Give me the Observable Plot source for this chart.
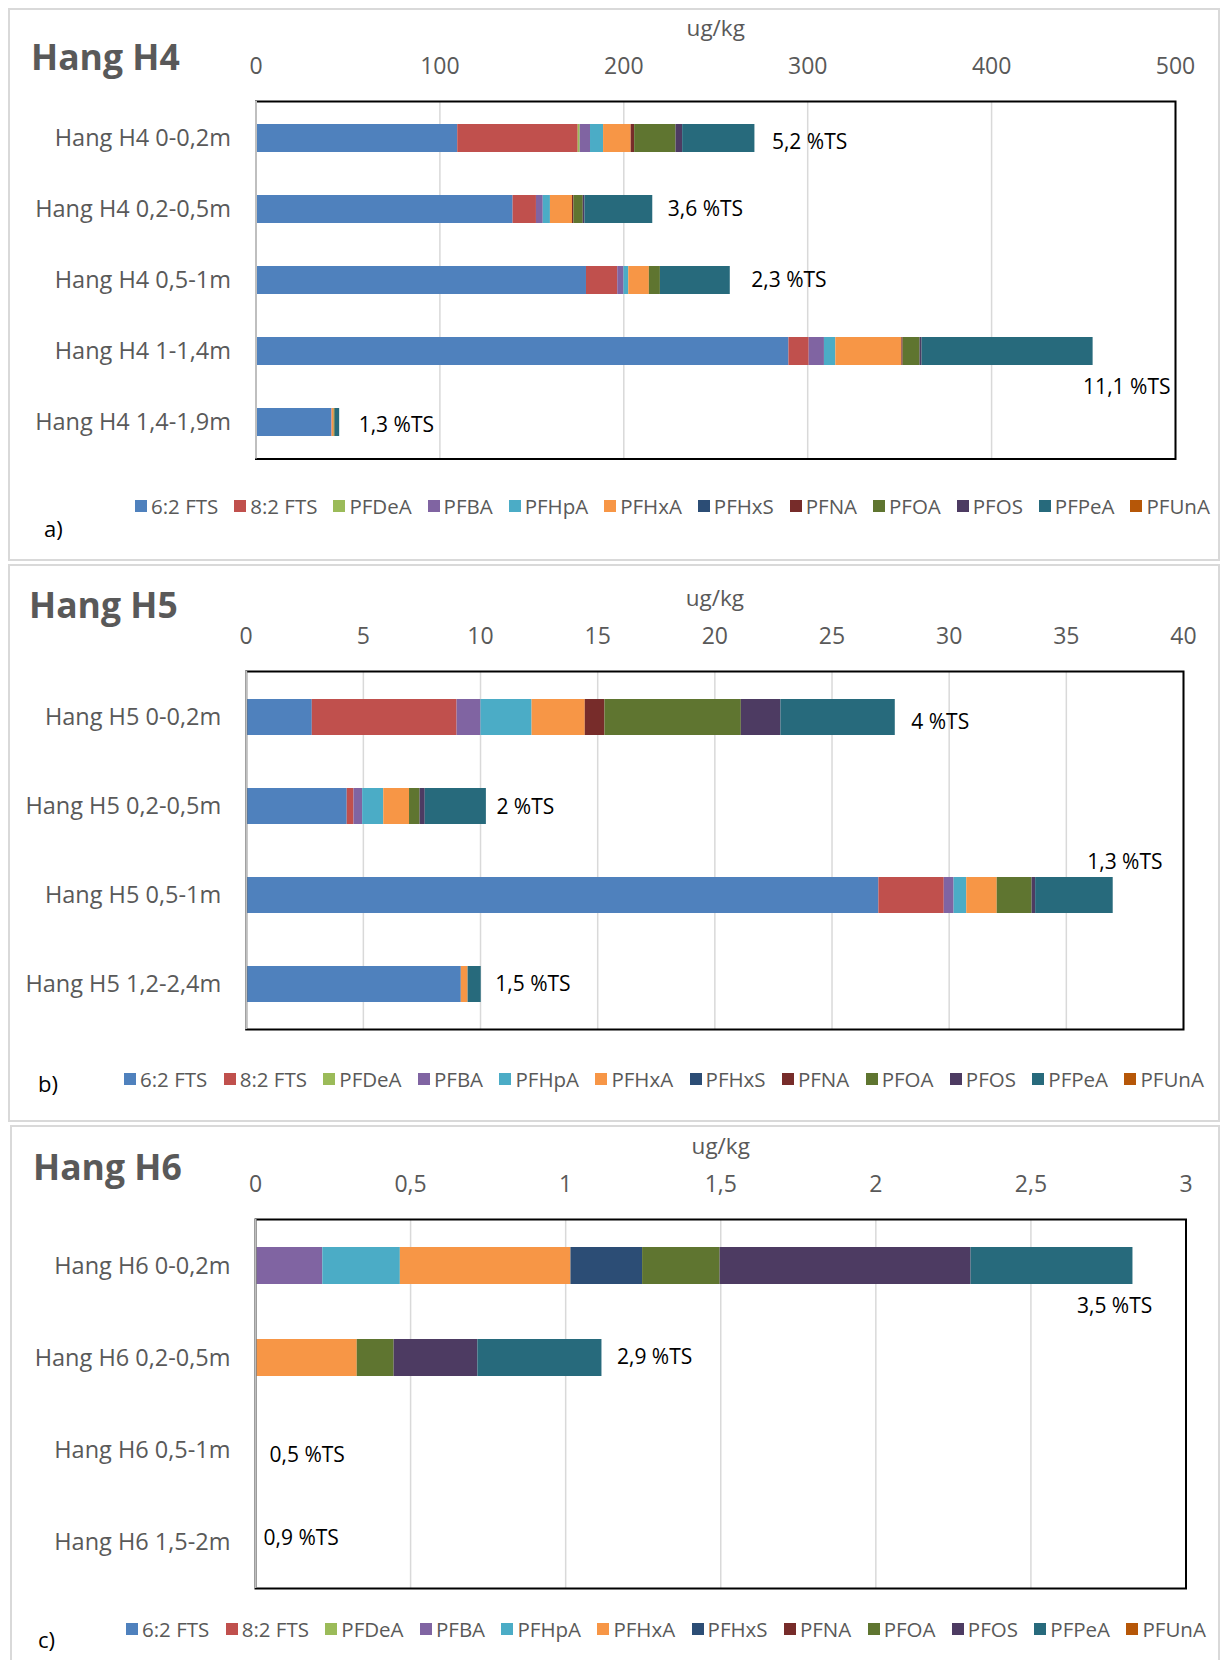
<!DOCTYPE html>
<html>
<head>
<meta charset="utf-8">
<script src="https://cdn.jsdelivr.net/npm/d3@7"></script>
<script src="https://cdn.jsdelivr.net/npm/@observablehq/plot@0.6"></script>
<style>
  html, body { margin: 0; padding: 0; background: #fff; }
  #page { position: relative; width: 1222px; height: 1660px; overflow: hidden; font-family: "Open Sans", sans-serif; background: #fff; }
  .panel { position: absolute; box-sizing: border-box; border: 2px solid #d9d9d9; }
  .abs { position: absolute; white-space: nowrap; }
  .legend { position: absolute; display: flex; justify-content: space-between; align-items: center; height: 26px; font-size: 20.5px; color: #595959; }
  .legend .item { display: flex; align-items: center; }
  .legend .sw { width: 12px; height: 12px; margin-right: 4px; }
  svg text { font-family: "Open Sans", sans-serif; }
</style>
</head>
<body>
<div id="page"></div>
<script>
// ---------------- DATA ----------------
const compounds = ["6:2 FTS", "8:2 FTS", "PFDeA", "PFBA", "PFHpA", "PFHxA", "PFHxS", "PFNA", "PFOA", "PFOS", "PFPeA", "PFUnA"];
const compoundColors = ["#4F81BD", "#C0504D", "#9BBB59", "#8064A2", "#4BACC6", "#F79646", "#2C4D75", "#772C2A", "#5F7530", "#4D3B62", "#276A7C", "#B65708"];

// Hang H4 (ug/kg), values in compound order
const h4Samples = ["Hang H4 0-0,2m", "Hang H4 0,2-0,5m", "Hang H4 0,5-1m", "Hang H4 1-1,4m", "Hang H4 1,4-1,9m"];
const h4_0_02  = [109.7, 65.5, 1.1, 5.6, 7.1, 15.0, 0, 1.9, 22.5, 3.6, 39.3, 0];
const h4_02_05 = [139.8, 12.7, 0, 3.7, 3.9, 12.0, 0, 0.75, 5.1, 0.9, 36.9, 0];
const h4_05_1  = [179.7, 17.0, 0, 3.4, 2.6, 11.2, 0, 0, 6.0, 0, 38.0, 0];
const h4_1_14  = [289.8, 11.0, 0, 8.3, 6.2, 35.9, 0, 0.7, 9.2, 1.1, 93.0, 0];
const h4_14_19 = [41.1, 0, 0, 0.3, 0, 1.1, 0, 0, 0.6, 0, 2.4, 0];
const h4Labels = ["5,2 %TS", "3,6 %TS", "2,3 %TS", "11,1 %TS", "1,3 %TS"];
const h4Ticks = [0, 100, 200, 300, 400, 500];

// Hang H5 (ug/kg)
const h5Samples = ["Hang H5 0-0,2m", "Hang H5 0,2-0,5m", "Hang H5 0,5-1m", "Hang H5 1,2-2,4m"];
const h5_0_02  = [2.82, 6.18, 0, 1.02, 2.18, 2.27, 0, 0.84, 5.82, 1.69, 4.88, 0];
const h5_02_05 = [4.31, 0.29, 0, 0.37, 0.9, 1.1, 0, 0, 0.45, 0.22, 2.61, 0];
const h5_05_1  = [27.0, 2.79, 0, 0.42, 0.54, 1.3, 0, 0, 1.49, 0.15, 3.31, 0];
const h5_12_24 = [9.18, 0, 0, 0, 0, 0.29, 0, 0, 0, 0, 0.56, 0];
const h5Labels = ["4 %TS", "2 %TS", "1,3 %TS", "1,5 %TS"];
const h5Ticks = [0, 5, 10, 15, 20, 25, 30, 35, 40];

// Hang H6 (ug/kg)
const h6Samples = ["Hang H6 0-0,2m", "Hang H6 0,2-0,5m", "Hang H6 0,5-1m", "Hang H6 1,5-2m"];
const h6_0_02  = [0, 0, 0, 0.217, 0.25, 0.55, 0.231, 0, 0.25, 0.809, 0.522, 0];
const h6_02_05 = [0, 0, 0, 0, 0, 0.328, 0, 0, 0.119, 0.27, 0.4, 0];
const h6_05_1  = [0, 0, 0, 0, 0, 0, 0, 0, 0, 0, 0, 0];
const h6_15_2  = [0, 0, 0, 0, 0, 0, 0, 0, 0, 0, 0, 0];
const h6Labels = ["3,5 %TS", "2,9 %TS", "0,5 %TS", "0,9 %TS"];
const h6Ticks = [0, 0.5, 1, 1.5, 2, 2.5, 3];

// ---------------- LAYOUT (not data) ----------------
const panels = [
  { title: "Hang H4", letter: "a)", samples: h4Samples, rows: [h4_0_02, h4_02_05, h4_05_1, h4_1_14, h4_14_19], labels: h4Labels, ticks: h4Ticks,
    box: [8, 8, 1212, 553], top: 8, frame: [101, 458.5, 255.5, 1175],
    titleXY: [31, 71], letterXY: [44, 537], legend: [135, 506, 1075],
    labelOffsets: [[17, 4], [15, 0], [21, 0], [-10, 36], [19, 3]] },
  { title: "Hang H5", letter: "b)", samples: h5Samples, rows: [h5_0_02, h5_02_05, h5_05_1, h5_12_24], labels: h5Labels, ticks: h5Ticks,
    box: [8, 564, 1212, 558], top: 564, frame: [671, 1029, 245.7, 1183],
    titleXY: [29, 619], letterXY: [38, 1092], legend: [124, 1079, 1080],
    labelOffsets: [[16, 5], [10, 1], [-26, -33], [14, 0]] },
  { title: "Hang H6", letter: "c)", samples: h6Samples, rows: [h6_0_02, h6_02_05, h6_05_1, h6_15_2], labels: h6Labels, ticks: h6Ticks,
    box: [10, 1125, 1210, 545], top: 1125, frame: [1219, 1588, 255, 1185.5],
    titleXY: [33, 1181], letterXY: [38, 1648], legend: [126, 1628.6, 1080],
    labelOffsets: [[-56, 40], [15, -1], [14, 5], [8, -4]] }
];

const page = document.getElementById("page");
const fmt = d => String(d).replace(".", ",");

function addText(txt, x, baseline, size, opts = {}) {
  const el = document.createElement("div");
  el.className = "abs";
  el.textContent = txt;
  el.style.left = x + "px";
  el.style.fontSize = size + "px";
  el.style.lineHeight = size + "px";
  el.style.top = (baseline - 0.888 * size) + "px";
  el.style.color = opts.color || "#000";
  if (opts.bold) el.style.fontWeight = "700";
  page.appendChild(el);
}

for (const p of panels) {
  const box = document.createElement("div");
  box.className = "panel";
  Object.assign(box.style, { left: p.box[0] + "px", top: p.box[1] + "px", width: p.box[2] + "px", height: p.box[3] + "px" });
  page.appendChild(box);

  const table = [];
  p.samples.forEach((s, i) => p.rows[i].forEach((v, j) => { if (v > 0) table.push({ sample: s, compound: compounds[j], value: v }); }));
  const totals = p.samples.map((s, i) => ({ sample: s, total: d3.sum(p.rows[i]), label: p.labels[i], idx: i }));

  const [fTop, fBottom, fLeft, fRight] = p.frame;
  const height = fBottom - p.top + 3;
  const labelMarks = totals.map(t => Plot.text([t], {
    x: "total", y: "sample", text: "label", textAnchor: "start",
    dx: p.labelOffsets[t.idx][0], dy: p.labelOffsets[t.idx][1], fontSize: 21, fill: "#000"
  }));

  const chart = Plot.plot({
    width: 1222, height,
    marginTop: fTop - p.top, marginBottom: 3, marginLeft: fLeft, marginRight: 1222 - fRight,
    x: { domain: [p.ticks[0], p.ticks[p.ticks.length - 1]], ticks: p.ticks, tickFormat: fmt },
    y: { domain: p.samples, paddingInner: 0.6, paddingOuter: 0.3 },
    color: { domain: compounds, range: compoundColors },
    style: { fontFamily: "Open Sans, sans-serif", background: "transparent", overflow: "visible" },
    marks: [
      Plot.gridX(p.ticks, { stroke: "#d9d9d9", strokeOpacity: 1, strokeWidth: 1.5 }),
      Plot.barX(table, Plot.stackX({ x: "value", y: "sample", fill: "compound", order: compounds })),
      Plot.frame({ stroke: "#000", strokeWidth: 2 }),
      Plot.ruleX([p.ticks[0]], { stroke: "#bfbfbf", strokeWidth: 2 }),
      Plot.axisX(p.ticks, { anchor: "top", tickSize: 0, tickPadding: 28, fontSize: 23, fill: "#595959", tickFormat: fmt, label: null }),
      Plot.axisY({ anchor: "left", tickSize: 0, tickPadding: 25, fontSize: 23.5, fill: "#595959", label: null }),
      Plot.text(["ug/kg"], { frameAnchor: "top", dy: -73, lineAnchor: "middle", fontSize: 22.5, fill: "#595959" }),
      ...labelMarks
    ]
  });
  chart.style.position = "absolute";
  chart.style.left = "0px";
  chart.style.top = p.top + "px";
  page.appendChild(chart);

  addText(p.title, p.titleXY[0], p.titleXY[1], 35.5, { bold: true, color: "#595959" });
  addText(p.letter, p.letterXY[0], p.letterXY[1], 22, { color: "#000" });

  const leg = document.createElement("div");
  leg.className = "legend";
  leg.style.left = p.legend[0] + "px";
  leg.style.top = (p.legend[1] - 13) + "px";
  leg.style.width = p.legend[2] + "px";
  compounds.forEach((c, i) => {
    const it = document.createElement("div");
    it.className = "item";
    const sw = document.createElement("span");
    sw.className = "sw";
    sw.style.background = compoundColors[i];
    const tx = document.createElement("span");
    tx.textContent = c;
    it.appendChild(sw); it.appendChild(tx);
    leg.appendChild(it);
  });
  page.appendChild(leg);
}
</script>
</body>
</html>
